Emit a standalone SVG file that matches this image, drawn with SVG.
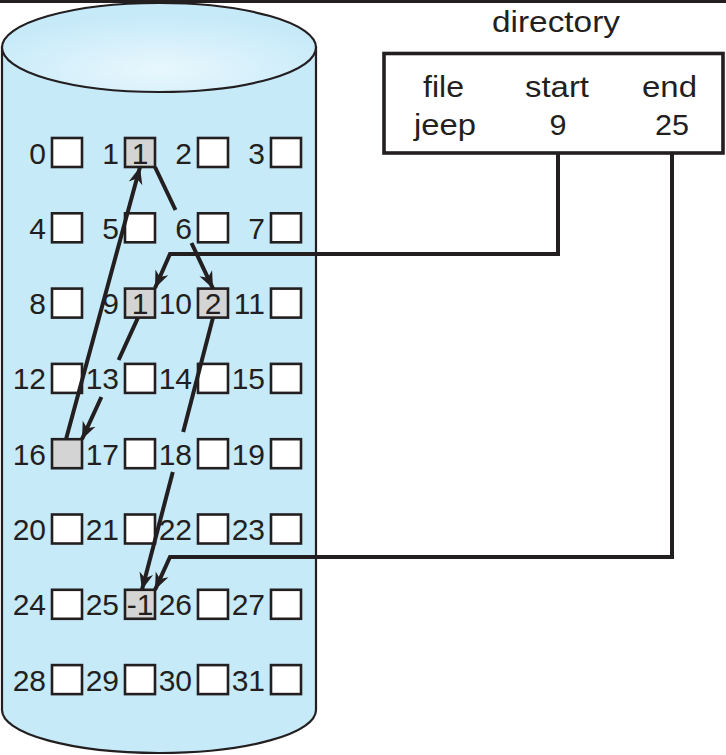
<svg xmlns="http://www.w3.org/2000/svg" width="726" height="755" viewBox="0 0 726 755">
<style>
text{font-family:"Liberation Sans",Arial,sans-serif;font-size:30px;fill:#231f20}
.lbl{text-anchor:end}
.c{text-anchor:middle}
.b{fill:#fff;stroke:#231f20;stroke-width:2.6}
.g{fill:#d4d4d4;stroke:#231f20;stroke-width:2.6}
.ln{fill:none;stroke:#231f20;stroke-width:4;stroke-linejoin:miter}
</style>
<defs>
<radialGradient id="topg" cx="0.5" cy="0.75" r="0.6">
<stop offset="0" stop-color="#e8f7fd"/>
<stop offset="1" stop-color="#c7eaf9"/>
</radialGradient>
<marker id="ah" markerUnits="userSpaceOnUse" markerWidth="20" markerHeight="16" viewBox="-18 -8 20 16" refX="0" refY="0" orient="auto">
<path d="M0,0 L-17,-7 L-12,0 L-17,7 Z" fill="#231f20"/>
</marker>
</defs>
<rect x="0" y="0" width="726" height="3" fill="#231f20"/>
<g id="disk">
<path d="M2,47 L2,710 A157,43 0 0 0 316,710 L316,47 Z" fill="#c7eaf9" stroke="#231f20" stroke-width="2.2"/>
<ellipse cx="159" cy="47.5" rx="157" ry="44.5" fill="url(#topg)" stroke="#231f20" stroke-width="2.2"/>
</g>
<g id="blocks">
<g id="b0"><text class="lbl" x="46" y="163.5">0</text><rect class="b" x="52" y="138" width="30" height="29"/></g>
<g id="b1"><text class="lbl" x="119" y="163.5">1</text><rect class="g" x="125" y="138" width="30" height="29"/><text class="c" x="140" y="163.5">1</text></g>
<g id="b2"><text class="lbl" x="192" y="163.5">2</text><rect class="b" x="198" y="138" width="30" height="29"/></g>
<g id="b3"><text class="lbl" x="265" y="163.5">3</text><rect class="b" x="271" y="138" width="30" height="29"/></g>

<g id="b4"><text class="lbl" x="46" y="238.8">4</text><rect class="b" x="52" y="213.3" width="30" height="29"/></g>
<g id="b5"><text class="lbl" x="119" y="238.8">5</text><rect class="b" x="125" y="213.3" width="30" height="29"/></g>
<g id="b6"><text class="lbl" x="192" y="238.8">6</text><rect class="b" x="198" y="213.3" width="30" height="29"/></g>
<g id="b7"><text class="lbl" x="265" y="238.8">7</text><rect class="b" x="271" y="213.3" width="30" height="29"/></g>

<g id="b8"><text class="lbl" x="46" y="314.1">8</text><rect class="b" x="52" y="288.6" width="30" height="29"/></g>
<g id="b9"><text class="lbl" x="119" y="314.1">9</text><rect class="g" x="125" y="288.6" width="30" height="29"/><text class="c" x="140" y="314.1">1</text></g>
<g id="b10"><text class="lbl" x="192" y="314.1">10</text><rect class="g" x="198" y="288.6" width="30" height="29"/><text class="c" x="213" y="314.1">2</text></g>
<g id="b11"><text class="lbl" x="265" y="314.1">11</text><rect class="b" x="271" y="288.6" width="30" height="29"/></g>

<g id="b12"><text class="lbl" x="46" y="389.4">12</text><rect class="b" x="52" y="363.9" width="30" height="29"/></g>
<g id="b13"><text class="lbl" x="119" y="389.4">13</text><rect class="b" x="125" y="363.9" width="30" height="29"/></g>
<g id="b14"><text class="lbl" x="192" y="389.4">14</text><rect class="b" x="198" y="363.9" width="30" height="29"/></g>
<g id="b15"><text class="lbl" x="265" y="389.4">15</text><rect class="b" x="271" y="363.9" width="30" height="29"/></g>

<g id="b16"><text class="lbl" x="46" y="464.7">16</text><rect class="g" x="52" y="439.2" width="30" height="29"/></g>
<g id="b17"><text class="lbl" x="119" y="464.7">17</text><rect class="b" x="125" y="439.2" width="30" height="29"/></g>
<g id="b18"><text class="lbl" x="192" y="464.7">18</text><rect class="b" x="198" y="439.2" width="30" height="29"/></g>
<g id="b19"><text class="lbl" x="265" y="464.7">19</text><rect class="b" x="271" y="439.2" width="30" height="29"/></g>

<g id="b20"><text class="lbl" x="46" y="540">20</text><rect class="b" x="52" y="514.5" width="30" height="29"/></g>
<g id="b21"><text class="lbl" x="119" y="540">21</text><rect class="b" x="125" y="514.5" width="30" height="29"/></g>
<g id="b22"><text class="lbl" x="192" y="540">22</text><rect class="b" x="198" y="514.5" width="30" height="29"/></g>
<g id="b23"><text class="lbl" x="265" y="540">23</text><rect class="b" x="271" y="514.5" width="30" height="29"/></g>

<g id="b24"><text class="lbl" x="46" y="615.3">24</text><rect class="b" x="52" y="589.8" width="30" height="29"/></g>
<g id="b25"><text class="lbl" x="119" y="615.3">25</text><rect class="g" x="125" y="589.8" width="30" height="29"/><text class="c" x="140" y="615.3">-1</text></g>
<g id="b26"><text class="lbl" x="192" y="615.3">26</text><rect class="b" x="198" y="589.8" width="30" height="29"/></g>
<g id="b27"><text class="lbl" x="265" y="615.3">27</text><rect class="b" x="271" y="589.8" width="30" height="29"/></g>

<g id="b28"><text class="lbl" x="46" y="690.6">28</text><rect class="b" x="52" y="665.1" width="30" height="29"/></g>
<g id="b29"><text class="lbl" x="119" y="690.6">29</text><rect class="b" x="125" y="665.1" width="30" height="29"/></g>
<g id="b30"><text class="lbl" x="192" y="690.6">30</text><rect class="b" x="198" y="665.1" width="30" height="29"/></g>
<g id="b31"><text class="lbl" x="265" y="690.6">31</text><rect class="b" x="271" y="665.1" width="30" height="29"/></g>
</g>
<g id="directory">
<text class="c" x="556" y="32" textLength="128" lengthAdjust="spacingAndGlyphs">directory</text>
<rect x="384" y="53.5" width="339" height="99.5" fill="#fff" stroke="#231f20" stroke-width="3.6"/>
<text class="c" x="443.5" y="97" textLength="41" lengthAdjust="spacingAndGlyphs">file</text>
<text class="c" x="557" y="97" textLength="64" lengthAdjust="spacingAndGlyphs">start</text>
<text class="c" x="669.5" y="97" textLength="55" lengthAdjust="spacingAndGlyphs">end</text>
<text class="c" x="445" y="134.5" textLength="62" lengthAdjust="spacingAndGlyphs">jeep</text>
<text class="c" x="558" y="134.5" textLength="17" lengthAdjust="spacingAndGlyphs">9</text>
<text class="c" x="672" y="134.5" textLength="34" lengthAdjust="spacingAndGlyphs">25</text>
</g>
<g id="connectors">
<polyline class="ln" points="558,153 558,254 170,254 155,288" marker-end="url(#ah)"/>
<polyline class="ln" points="672,153 672,557 170,557 155,589.8" marker-end="url(#ah)"/>
<line class="ln" x1="155" y1="167" x2="175.5" y2="210"/>
<line class="ln" x1="191.5" y1="243" x2="213" y2="288.6" marker-end="url(#ah)"/>
<line class="ln" x1="213" y1="317.6" x2="183.2" y2="432"/>
<line class="ln" x1="172.8" y1="472" x2="142" y2="589.8" marker-end="url(#ah)"/>
<line class="ln" x1="138" y1="317.6" x2="118.6" y2="360"/>
<line class="ln" x1="101.4" y1="397" x2="82" y2="439.2" marker-end="url(#ah)"/>
<line class="ln" x1="66" y1="439.2" x2="140" y2="167" marker-end="url(#ah)"/>
</g>
</svg>
